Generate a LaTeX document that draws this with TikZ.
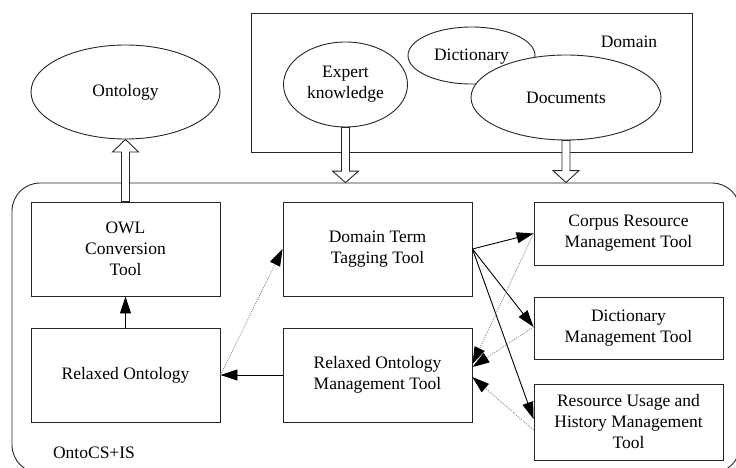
\documentclass[tikz,border=0pt]{standalone}
\usepackage{fontspec}
\setmainfont{Liberation Serif}
\usetikzlibrary{shapes.geometric,arrows.meta,calc}
\newcommand\harrow[3]{%
  \draw[hol] ($#1+(-4,0)$) -- ($#2+(-4,#3)$) -- ($#2+(-13,#3)$) -- #2 -- ($#2+(13,#3)$) -- ($#2+(4,#3)$) -- ($#1+(4,0)$) -- cycle;}
\begin{document}
\begin{tikzpicture}[x=1pt,y=-1pt,
  every node/.style={font=\fontsize{17.5}{21}\selectfont, text=black},
  box/.style={draw=black!85, line width=0.9pt, fill=white, minimum width=189pt, align=center, inner sep=0pt},
  oval/.style={ellipse, draw=black!85, line width=0.9pt, fill=white, inner sep=0pt, align=center},
  arr/.style={line width=0.9pt, -{Triangle[length=17pt,width=11pt]}},
  darr/.style={draw=black!45, line width=0.9pt, dash pattern=on 1pt off 1.2pt, -{Triangle[length=17pt,width=11pt,color=black,fill=black]}},
  hol/.style={draw=black!85, line width=0.9pt, fill=white}
]
\useasboundingbox (0,0) rectangle (736,468);
% containers
\node[draw=black!85, line width=0.9pt, rounded corners=28pt, minimum width=728pt, minimum height=290pt, inner sep=0pt] (sys) at (376,328) {};
\node[draw=black!85, line width=0.9pt, minimum width=441pt, minimum height=139pt, inner sep=0pt] (dom) at (471.5,82.5) {};
\node (domlbl) at (629,42) {Domain};
\node (syslbl) at (94,453) {OntoCS+IS};
% ellipses
\node[oval, minimum width=189pt, minimum height=94pt] (ont) at (125.5,92) {Ontology};
\node[oval, minimum width=124pt, minimum height=85pt] (exp) at (345.5,84.5) {Expert\\knowledge};
\node[oval, minimum width=127pt, minimum height=57pt] (dic) at (471.5,55.5) {};
\node[oval, minimum width=190pt, minimum height=85pt] (doc) at (566,97.5) {Documents};
\node (diclbl) at (471.5,57) {Dictionary};
% boxes
\node[box, minimum height=94pt] (owl) at (125.5,249) {OWL\\Conversion\\Tool};
\node[box, minimum height=94pt] (rel) at (125.5,375) {Relaxed Ontology};
\node[box, minimum height=94pt] (dtt) at (377.5,249) {Domain Term\\Tagging Tool};
\node[box, minimum height=94pt] (romt) at (377.5,375) {Relaxed Ontology\\Management Tool};
\node[box, minimum height=63pt] (crm) at (628.5,233.5) {Corpus Resource\\Management Tool};
\node[box, minimum height=62pt] (dmt) at (628.5,328) {Dictionary\\Management Tool};
\node[box, minimum height=76pt] (ruh) at (628.5,422) {Resource Usage and\\History Management\\Tool};
% hollow arrows
\coordinate (expT) at (exp.south |- sys.north);
\coordinate (docT) at (doc.south |- sys.north);
\harrow{(owl.north)}{(ont.south)}{12.5}
\harrow{(exp.south)}{(expT)}{-11.5}
\harrow{(doc.south)}{(docT)}{-12}
% solid arrows
\draw[arr] (rel.north) -- (owl.south);
\draw[arr] (romt.west) -- (rel.east);
\draw[arr] (dtt.east) -- (crm.west);
\draw[arr] (dtt.east) -- ([yshift=1pt]dmt.west);
\draw[arr] (dtt.east) -- ([yshift=3pt]ruh.west);
% dotted arrows
\draw[darr] (rel.east) -- (dtt.west);
\draw[darr] (crm.west) -- ([yshift=11pt]romt.east);
\draw[darr] ([yshift=1pt]dmt.west) -- ([yshift=8pt]romt.east);
\draw[darr] ([yshift=-8pt]ruh.west) -- ([yshift=-2pt]romt.east);
\end{tikzpicture}
\end{document}
